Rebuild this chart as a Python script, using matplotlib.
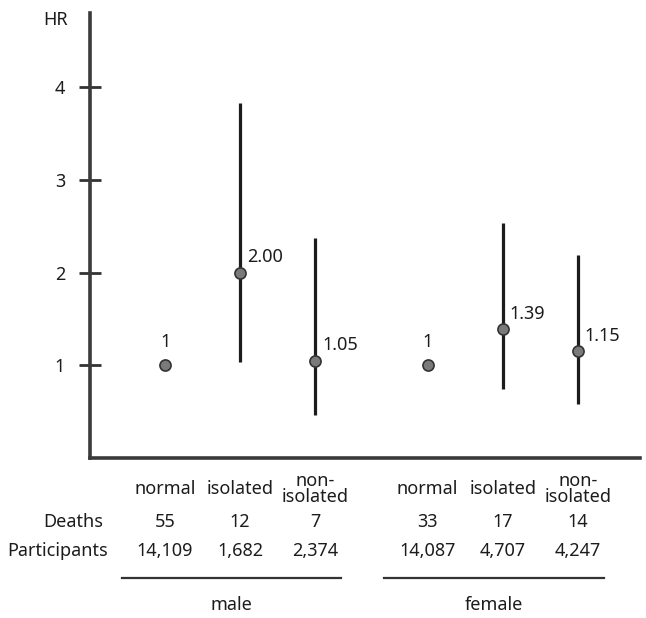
import matplotlib.pyplot as plt
import matplotlib.transforms as mtransforms

plt.rcParams['font.family'] = ['Noto Sans', 'DejaVu Sans']

# hazard ratios with 95% CI, male then female
groups = ["normal", "isolated", "non-\nisolated"] * 2
hr = [1.00, 2.00, 1.05, 1.00, 1.39, 1.15]
ci_low = [None, 1.04, 0.46, None, 0.74, 0.58]
ci_high = [None, 3.83, 2.37, None, 2.54, 2.19]
hr_labels = ["1", "2.00", "1.05", "1", "1.39", "1.15"]
deaths = ["55", "12", "7", "33", "17", "14"]
participants = ["14,109", "1,682", "2,374", "14,087", "4,707", "4,247"]
sexes = ["male", "female"]

xpos = [0, 1, 2, 3.5, 4.5, 5.5]
fs = 13

fig = plt.figure(figsize=(6.46, 6.18), dpi=100)
ax = fig.add_axes([90/646, 1 - 458/618, 550/646, 445/618])

ink = "#1c1c1c"
for i in range(6):
    if ci_low[i] is not None:
        ax.plot([xpos[i], xpos[i]], [ci_low[i], ci_high[i]], color=ink, lw=2.3,
                solid_capstyle='butt', zorder=2)
    ax.plot(xpos[i], hr[i], 'o', ms=8, mfc="#7a7a7a", mec="#333333", mew=1.2, zorder=3)
    if ci_low[i] is None:
        ax.annotate(hr_labels[i], (xpos[i], hr[i]), xytext=(0, 17), textcoords='offset points',
                    ha='center', va='center', fontsize=fs, color=ink)
    else:
        ax.annotate(hr_labels[i], (xpos[i], hr[i]), xytext=(5, 11), textcoords='offset points',
                    ha='left', va='center', fontsize=fs, color=ink)

ax.set_xlim(-1, 6.33)
ax.set_ylim(0, 4.8)
ax.set_yticks([1, 2, 3, 4])
ax.set_yticklabels(["1", "2", "3", "4"])
ax.set_xticks([])
ax.tick_params(axis='y', direction='inout', length=16, width=2, color="#333333",
               labelsize=fs, pad=10, labelcolor=ink)
for s in ['top', 'right']:
    ax.spines[s].set_visible(False)
for s in ['left', 'bottom']:
    ax.spines[s].set_linewidth(2.6)
    ax.spines[s].set_color("#3a3a3a")

ax.text(-0.04, 0.985, "HR", transform=ax.transAxes, ha='right', va='center',
        fontsize=fs, color=ink)

# table under the axis
trans = mtransforms.blended_transform_factory(ax.transData, ax.transAxes)
row_y = lambda py: (458 - py) / 445
for i in range(6):
    ax.text(xpos[i], row_y(489), groups[i], transform=trans, ha='center', va='center',
            fontsize=fs, color=ink, linespacing=0.85)
    ax.text(xpos[i], row_y(522), deaths[i], transform=trans, ha='center', va='center',
            fontsize=fs, color=ink)
    ax.text(xpos[i], row_y(551), participants[i], transform=trans, ha='center', va='center',
            fontsize=fs, color=ink)

ax.text(0.024, row_y(522), "Deaths", transform=ax.transAxes, ha='right', va='center',
        fontsize=fs, color=ink)
ax.text(0.033, row_y(551), "Participants", transform=ax.transAxes, ha='right', va='center',
        fontsize=fs, color=ink)

for k, sex in enumerate(sexes):
    x0 = xpos[3 * k] - 0.58
    x1 = xpos[3 * k + 2] + 0.35
    ax.plot([x0, x1], [row_y(578), row_y(578)], transform=trans, color="#333333",
            lw=1.6, clip_on=False)
    ax.text((x0 + x1) / 2, row_y(605), sex, transform=trans, ha='center', va='center',
            fontsize=fs, color=ink)

fig.savefig("out.png", dpi=100)
